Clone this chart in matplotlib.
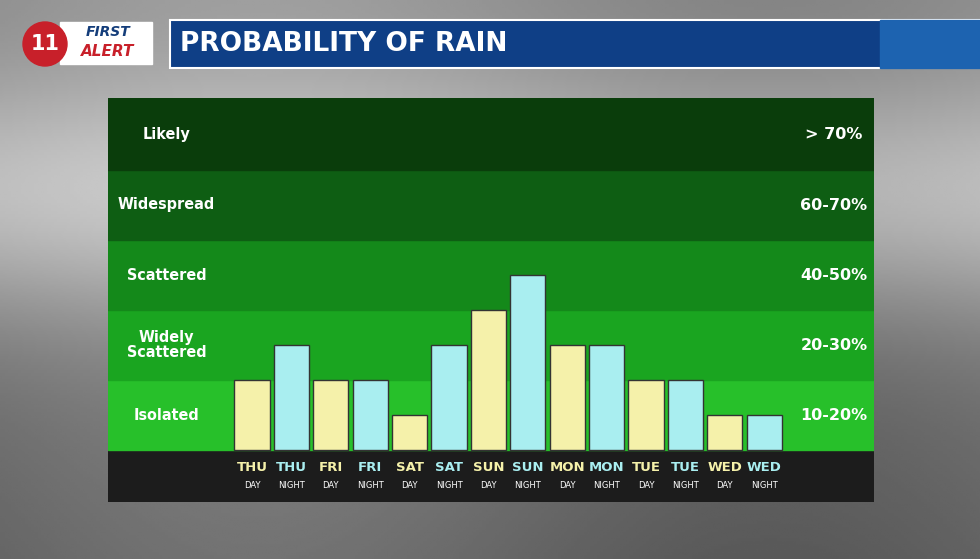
import numpy as np
import matplotlib
matplotlib.use("Agg")
import matplotlib.pyplot as plt
from matplotlib.patches import Rectangle, Ellipse

days = ["THU","THU","FRI","FRI","SAT","SAT","SUN","SUN","MON","MON","TUE","TUE","WED","WED"]
parts = ["DAY","NIGHT"]*7
values = [20,30,20,20,10,30,40,50,30,30,20,20,10,10]
band_left = ["Isolated","Widely\nScattered","Scattered","Widespread","Likely"]
band_right = ["10-20%","20-30%","40-50%","60-70%","> 70%"]
band_colors = ["#27c02a","#1aa520","#14891a","#0e5e13","#0a3d0b"]
day_color, night_color = "#f5f1aa", "#a9eef0"

W, H = 980, 559
fig = plt.figure(figsize=(W/100, H/100), dpi=100)

bg = fig.add_axes([0,0,1,1]); bg.set_axis_off()
yy = np.linspace(0,1,200)[:,None]; xx = np.linspace(0,1,300)[None,:]
img = 0.55 + 0.25*np.exp(-((yy-0.35)**2)/0.05) - 0.15*yy + 0.05*np.sin(xx*6)
bg.imshow(np.clip(img,0,1), cmap="gray", vmin=0, vmax=1, aspect="auto", extent=[0,1,0,1])
bg.set_xlim(0,1); bg.set_ylim(0,1)
def px(x,y): return x/W, 1-y/H
bg.add_patch(Rectangle(px(170,68), 810/W, 48/H, color="#0f3f86", ec="white", lw=1.5))
bg.add_patch(Rectangle(px(880,68), 100/W, 48/H, color="#1d63b0"))
bg.text(*px(180,44), "PROBABILITY OF RAIN", color="white", fontsize=19, fontweight="bold", va="center", family="DejaVu Sans")
bg.add_patch(Rectangle(px(60,64), 92/W, 42/H, color="white"))
bg.add_patch(Ellipse(px(45,44), 44/W, 44/H, color="#c8202a"))
bg.text(*px(45,44), "11", color="white", fontsize=15, fontweight="bold", ha="center", va="center")
bg.text(*px(108,32), "FIRST", color="#143d7a", fontsize=10, fontweight="bold", ha="center", va="center", style="italic")
bg.text(*px(108,52), "ALERT", color="#c8202a", fontsize=11, fontweight="bold", ha="center", va="center", style="italic")

ax = fig.add_axes([108/W, 1-502/H, (874-108)/W, (502-98)/H])
ax.set_axis_off()
x0, sp = 252, 39.4
ax.set_xlim((108-x0)/sp, (874-x0)/sp)
ax.set_ylim(-52/3.5, (450-98)/3.5)
xl, xr = ax.get_xlim()
ax.axhspan(ax.get_ylim()[0], 0, color="#1c1c1c")
for i, c in enumerate(band_colors):
    lo, hi = i*20, (i+1)*20 if i < 4 else ax.get_ylim()[1]
    ax.axhspan(lo, hi, color=c)
    ym = (lo+hi)/2
    ax.text((xl + (225-x0)/sp)/2, ym, band_left[i], color="white", fontsize=11.5, fontweight="bold", ha="center", va="center", linespacing=0.95, fontstretch="condensed")
    ax.text((834-x0)/sp, ym, band_right[i], color="white", fontsize=11.5, fontweight="bold", ha="center", va="center")
idx = np.arange(len(values))
cols = [day_color if p=="DAY" else night_color for p in parts]
ax.bar(idx, values, width=0.89, color=cols, edgecolor="#333333", lw=1)
for i in idx:
    ax.text(i, -5, days[i], color=day_color if parts[i]=="DAY" else night_color, fontsize=9.5, fontweight="bold", ha="center", va="center")
    ax.text(i, -10, parts[i], color="white", fontsize=6, ha="center", va="center")
fig.savefig("out.png", dpi=100)
